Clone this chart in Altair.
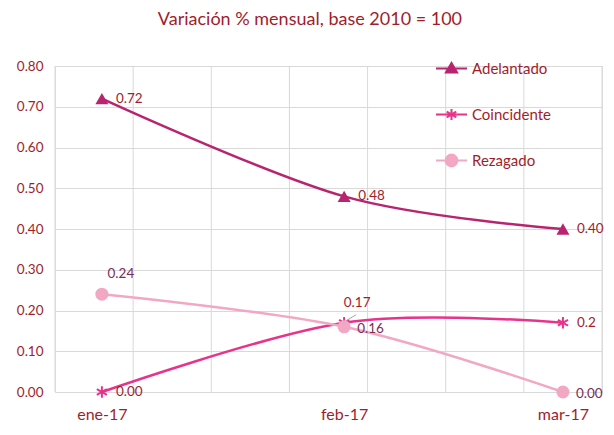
import altair as alt
import pandas as pd

TITLE = "Variación % mensual, base 2010 = 100"
MONTHS = ["ene-17", "feb-17", "mar-17"]
MONTH_DAY = [0, 31, 59]            # days since 1 Jan 2017 (Excel date axis)
X_GRID_DAYS = [-6, 4, 14, 24, 34, 44, 54, 64]
Y_TICKS = [0.0, 0.1, 0.2, 0.3, 0.4, 0.5, 0.6, 0.7, 0.8]

SERIES = ["Adelantado", "Coincidente", "Rezagado"]
ADELANTADO = [0.72, 0.48, 0.40]
COINCIDENTE = [0.00, 0.17, 0.17]
REZAGADO = [0.24, 0.16, 0.00]
LABELS_ADELANTADO = ["0.72", "0.48", "0.40"]
LABELS_COINCIDENTE = ["0.00", "0.17", "0.2"]
LABELS_REZAGADO = ["0.24", "0.16", "0.00"]

COLORS = ["#B8246F", "#E8338C", "#F2A7C3"]
RED = "#A11D2B"
MAUVE = "#7B2D55"
GRID = "#D9D9D9"
FONT = "Lato"

ASTERISK = "M0,-0.9L0,0.9M-0.78,-0.45L0.78,0.45M-0.78,0.45L0.78,-0.45"
MARKER_SHAPES = ["triangle-up", ASTERISK, "circle"]
MARKER_FILLED = [True, False, True]
GLYPH_SHAPES = [
    "M-1,0L1,0M-0.36,0.26L0,-0.36L0.36,0.26Z",
    "M-1,0L1,0M0,-0.36L0,0.36M-0.31,-0.18L0.31,0.18M-0.31,0.18L0.31,-0.18",
    "M-1,0L1,0M0.38,0A0.38,0.38 0 1,1 -0.38,0A0.38,0.38 0 1,1 0.38,0Z",
]

rows = []
for s, vals, labs in zip(SERIES, [ADELANTADO, COINCIDENTE, REZAGADO],
                         [LABELS_ADELANTADO, LABELS_COINCIDENTE, LABELS_REZAGADO]):
    for d, m, v, l in zip(MONTH_DAY, MONTHS, vals, labs):
        rows.append({"series": s, "day": d, "month": m, "value": v, "label": l})
df = pd.DataFrame(rows)
grid_df = pd.DataFrame({"day": X_GRID_DAYS})

label_expr = " : ".join(
    f"datum.value == {d} ? '{m}'" for d, m in zip(MONTH_DAY, MONTHS)
) + " : ''"

cs = alt.Scale(domain=SERIES, range=COLORS)
x_scale = alt.Scale(domain=[X_GRID_DAYS[0], X_GRID_DAYS[-1]], nice=False, zero=False)

x_enc = alt.X(
    "day:Q",
    scale=x_scale,
    axis=alt.Axis(
        values=MONTH_DAY, labelExpr=label_expr, title=None, domain=False,
        ticks=True, tickSize=25, tickOpacity=0, grid=False,
        labelFont=FONT, labelFontSize=16, labelColor=RED, labelPadding=2,
        labelFlush=False, labelBaseline="alphabetic",
    ),
)
y_enc = alt.Y(
    "value:Q",
    scale=alt.Scale(domain=[Y_TICKS[0], Y_TICKS[-1]], nice=False),
    axis=alt.Axis(
        values=Y_TICKS, format=".2f", title=None, domain=False, ticks=False,
        grid=True, gridColor=GRID, gridWidth=1,
        labelFont=FONT, labelFontSize=13.5, labelColor=RED, labelPadding=12,
    ),
)

base = alt.Chart(df).encode(x=x_enc, y=y_enc)

vgrid = alt.Chart(grid_df).mark_rule(color=GRID, strokeWidth=1).encode(
    x=alt.X("day:Q", scale=x_scale)
)

layers = [vgrid]
for s, c in zip(SERIES, COLORS):
    layers.append(
        base.mark_line(interpolate="cardinal", strokeWidth=2.5, color=c)
        .transform_filter(f"datum.series == '{s}'")
    )
for s, c, shp, filled in zip(SERIES, COLORS, MARKER_SHAPES, MARKER_FILLED):
    layers.append(
        base.mark_point(opacity=1, size=169, shape=shp, filled=filled,
                        color=c, strokeWidth=2)
        .transform_filter(f"datum.series == '{s}'")
    )

legend = alt.Legend(
    title=None, orient="none", legendX=380, legendY=-13, padding=0, offset=0,
    symbolSize=961, symbolStrokeWidth=2, symbolOpacity=1, clipHeight=31,
    rowPadding=15, labelFont=FONT, labelFontSize=15, labelColor=RED,
    labelOffset=4,
)
glyphs = base.mark_point(filled=True, strokeWidth=2).encode(
    shape=alt.Shape("series:N", scale=alt.Scale(domain=SERIES, range=GLYPH_SHAPES), legend=legend),
    fill=alt.Fill("series:N", scale=cs, legend=legend),
    stroke=alt.Stroke("series:N", scale=cs, legend=legend),
).transform_filter("false")
layers.append(glyphs)

txt = dict(font=FONT, fontSize=13.5)
layers.append(
    base.mark_rule(color="#A6A6A6", strokeWidth=1, xOffset=2, yOffset=-2,
                   x2Offset=12, y2Offset=-8)
    .encode(x2="day:Q", y2="value:Q")
    .transform_filter("datum.series == 'Coincidente' && datum.day == 31")
)
layers.append(
    base.mark_text(align="left", baseline="middle", dx=14, color=RED, **txt)
    .encode(text="label:N")
    .transform_filter("datum.series != 'Rezagado' && !(datum.series == 'Coincidente' && datum.day == 31)")
)
layers.append(
    base.mark_text(align="left", baseline="middle", dx=13, dy=2, color=MAUVE, **txt)
    .encode(text="label:N")
    .transform_filter("datum.series == 'Rezagado' && datum.day != 0")
)
layers.append(
    base.mark_text(align="center", baseline="middle", dx=13, dy=-20, color=RED, **txt)
    .encode(text="label:N")
    .transform_filter("datum.series == 'Coincidente' && datum.day == 31")
)
layers.append(
    base.mark_text(align="center", baseline="middle", dx=19, dy=-20, color=MAUVE, **txt)
    .encode(text="label:N")
    .transform_filter("datum.series == 'Rezagado' && datum.day == 0")
)

chart = alt.layer(*layers).properties(
    width=547, height=326,
    autosize=alt.AutoSizeParams(type="none"),
    padding={"left": 47, "top": 58, "right": 4, "bottom": 31},
    title=alt.TitleParams(TITLE, font=FONT, fontSize=18, fontWeight="normal",
                          color=RED, anchor="middle", frame="bounds", offset=24),
).configure_view(stroke=None).configure(background="white")

chart.save("out.html", embed_options={"renderer": "svg", "actions": False})
